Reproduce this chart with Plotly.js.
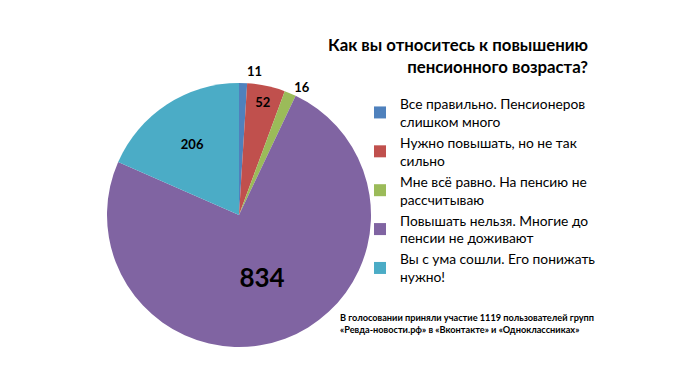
<!DOCTYPE html>
<html>
<head>
<meta charset="utf-8">
<script src="https://cdn.plot.ly/plotly-3.0.1.min.js"></script>
<style>
html,body{margin:0;padding:0;background:#fff;}
#chart{width:700px;height:379px;}
#chart path.textline{display:none !important;}
</style>
</head>
<body>
<div id="chart"></div>
<script>
const categories = [
  "Все правильно. Пенсионеров<br>слишком много",
  "Нужно повышать, но не так<br>сильно",
  "Мне всё равно. На пенсию не<br>рассчитываю",
  "Повышать нельзя. Многие до<br>пенсии не доживают",
  "Вы с ума сошли. Его понижать<br>нужно!"
];
const values = [11, 52, 16, 834, 206];
const colors = ["#4F81BD", "#C0504D", "#9BBB59", "#8064A2", "#4BACC6"];
const labelPositions = ["outside", "inside", "outside", "inside", "inside"];
const labelSizes = [13, 13, 13, 26, 13];

const FONT = "Lato, 'Open Sans', sans-serif";

const data = [{
  type: "pie",
  labels: categories,
  values: values,
  sort: false,
  direction: "clockwise",
  rotation: 0,
  marker: {colors: colors, line: {color: "#ffffff", width: 0}},
  textinfo: "value",
  textposition: labelPositions,
  insidetextorientation: "horizontal",
  textfont: {family: FONT, size: labelSizes, color: "#000000", weight: "bold"},
  outsidetextfont: {family: FONT, size: 13, color: "#000000", weight: "bold"},
  hoverinfo: "label+value",
  domain: {x: [107/700, 371/700], y: [1 - 348/379, 1 - 82/379]}
}];

const layout = {
  width: 700,
  height: 379,
  margin: {l: 0, r: 0, t: 0, b: 0},
  paper_bgcolor: "#ffffff",
  font: {family: FONT, color: "#000000"},
  title: {
    text: "<b>Как вы относитесь к повышению<br>пенсионного возраста?</b>",
    font: {family: FONT, size: 16.8, color: "#000000"},
    x: 588/700, xanchor: "right", xref: "paper",
    y: 1 - 51/379, yanchor: "top", yref: "container"
  },
  showlegend: true,
  legend: {
    x: 360/700, xanchor: "left",
    y: 1 - 88/379, yanchor: "top",
    font: {family: FONT, size: 13.8, color: "#000000"},
    bgcolor: "rgba(0,0,0,0)",
    traceorder: "normal"
  },
  annotations: [{
    text: "<b>В голосовании приняли участие 1119 пользователей групп<br>«Ревда-новости.рф» в «Вконтакте» и «Одноклассниках»</b>",
    xref: "paper", yref: "paper",
    x: 338/700, xanchor: "left",
    y: 1 - 310/379, yanchor: "top",
    align: "left",
    showarrow: false,
    font: {family: FONT, size: 9.2, color: "#000000"}
  }]
};

Plotly.newPlot("chart", data, layout, {displayModeBar: false, staticPlot: true});
</script>
</body>
</html>
